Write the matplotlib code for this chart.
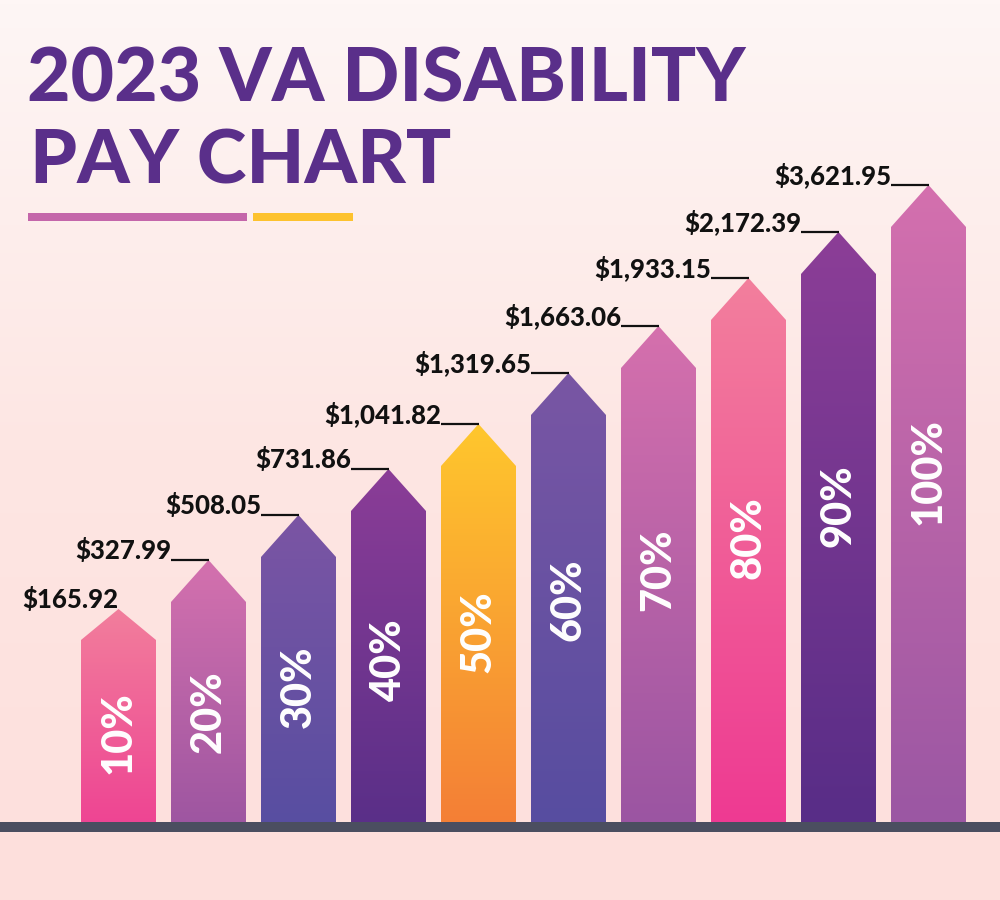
#!/usr/bin/env python3
"""2023 VA disability pay chart, drawn as stepped arrow bars."""
import numpy as np
import matplotlib
matplotlib.use("Agg")
import matplotlib.pyplot as plt
from matplotlib.patches import Polygon, Rectangle
from matplotlib.colors import LinearSegmentedColormap

# --------------------------------------------------------------------------- #
# Data
# --------------------------------------------------------------------------- #
ratings = ["10%", "20%", "30%", "40%", "50%", "60%", "70%", "80%", "90%", "100%"]
monthly_pay = ["$165.92", "$327.99", "$508.05", "$731.86", "$1,041.82",
               "$1,319.65", "$1,663.06", "$1,933.15", "$2,172.39", "$3,621.95"]
# visual bar heights (shoulder of the arrow)
bar_height = [182, 220, 265, 311, 356, 407, 454, 502, 548, 595]
bar_top = ["#F27E9C", "#D471AE", "#7B55A4", "#8B3D97", "#FFC72D",
           "#7956A4", "#D570AD", "#F37F9D", "#8C3E97", "#D470AE"]
bar_bottom = ["#EE4593", "#9E56A1", "#584EA1", "#5A2F88", "#F47F36",
              "#574DA0", "#9B55A2", "#EE3A92", "#582D87", "#9B57A3"]

PURPLE = "#5A2F8A"
FONT = ["Lato", "DejaVu Sans"]

fig = plt.figure(figsize=(10, 9), dpi=100)

# background: soft pink wash
bg = fig.add_axes([0, 0, 1, 1], zorder=0)
grad = np.linspace(0, 1, 256).reshape(-1, 1)
bg_cmap = LinearSegmentedColormap.from_list("bg", ["#FEF6F5", "#FDE6E3", "#FDDFDC"])
bg.imshow(grad, aspect="auto", cmap=bg_cmap, extent=[0, 1, 0, 1], origin="upper")
bg.set_axis_off()

ax = fig.add_axes([0, 0, 1, 1], zorder=1)
ax.patch.set_alpha(0)
pitch_px = 90.0
ax.set_xlim(-118.5 / pitch_px, (1000 - 118.5) / pitch_px)
ax.set_ylim(-78, 822)
ax.set_axis_off()

width = 75 / pitch_px
x = np.arange(len(ratings))

for i, (h, ctop, cbot) in enumerate(zip(bar_height, bar_top, bar_bottom)):
    head = 31 if i == 0 else 42
    x0, x1 = x[i] - width / 2, x[i] + width / 2
    tip = h + head
    shape = Polygon([(x0, 0), (x0, h), (x[i], tip), (x1, h), (x1, 0)],
                    closed=True, facecolor="none", edgecolor="none")
    ax.add_patch(shape)
    cmap = LinearSegmentedColormap.from_list(f"b{i}", [ctop, cbot])
    im = ax.imshow(grad, aspect="auto", cmap=cmap, extent=[x0, x1, 0, tip],
                   origin="upper", zorder=2, interpolation="bilinear")
    im.set_clip_path(shape)

    # rating inside the bar
    frac = 0.49 + 0.011 * i
    ax.text(x[i], h * frac, ratings[i], rotation=90, ha="center", va="center",
            color="white", fontsize=30, fontweight="black", family=FONT, zorder=3)

    # pay label with leader line to the tip
    if i == 0:
        ax.text(x[i], tip + 1, monthly_pay[i], ha="right", va="baseline",
                fontsize=18.5, fontweight="black", family=FONT, color="#111111", zorder=3)
    else:
        ax.plot([x0, x[i]], [tip, tip], color="#111111", lw=1.6, zorder=3,
                solid_capstyle="butt")
        ax.text(x0, tip + 1, monthly_pay[i], ha="right", va="baseline",
                fontsize=18.5, fontweight="black", family=FONT, color="#111111", zorder=3)

# floor line
xl = ax.get_xlim()
ax.add_patch(Rectangle((xl[0], -10), xl[1] - xl[0], 10, facecolor="#4B4E60",
                       edgecolor="none", zorder=4))

# title and accent rules
fig.text(0.027, 1 - 102 / 900, "2023 VA DISABILITY", ha="left", va="baseline",
         fontsize=54, fontweight="black", family=FONT, color=PURPLE)
fig.text(0.030, 1 - 183 / 900, "PAY CHART", ha="left", va="baseline",
         fontsize=54, fontweight="black", family=FONT, color=PURPLE)
fig.patches.append(Rectangle((0.028, 1 - 221 / 900), 0.219, 8 / 900,
                             transform=fig.transFigure, facecolor="#C466AA",
                             edgecolor="none", figure=fig))
fig.patches.append(Rectangle((0.253, 1 - 221 / 900), 0.100, 8 / 900,
                             transform=fig.transFigure, facecolor="#FDC22E",
                             edgecolor="none", figure=fig))

fig.savefig("out.png", dpi=100)
